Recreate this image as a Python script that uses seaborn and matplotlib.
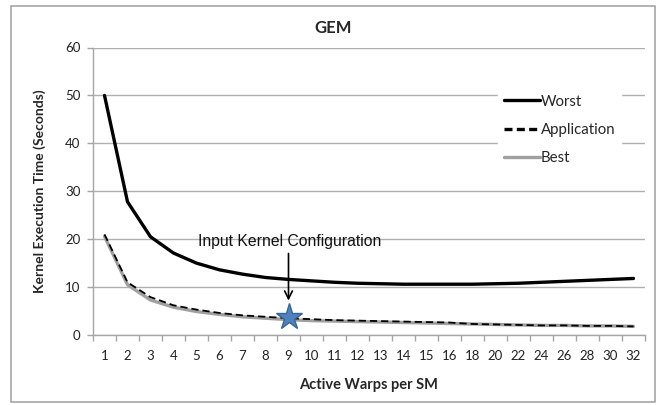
import matplotlib
matplotlib.use("Agg")
import matplotlib.pyplot as plt
import seaborn as sns
import pandas as pd
import numpy as np
from matplotlib.patches import Rectangle

warps = ["1", "2", "3", "4", "5", "6", "7", "8", "9", "10", "11", "12", "13", "14",
         "15", "16", "18", "20", "22", "24", "26", "28", "30", "32"]
worst = [50, 27.8, 20.5, 17.1, 15.0, 13.6, 12.7, 12.0, 11.6, 11.3, 11.0, 10.8,
         10.7, 10.6, 10.6, 10.6, 10.6, 10.7, 10.8, 11.0, 11.2, 11.4, 11.6, 11.8]
application = [21.0, 11.0, 7.9, 6.2, 5.3, 4.6, 4.1, 3.8, 3.5, 3.3, 3.1, 3.0,
               2.9, 2.8, 2.7, 2.6, 2.3, 2.2, 2.1, 2.0, 2.0, 1.9, 1.9, 1.8]
best = [20.6, 10.5, 7.3, 5.8, 4.9, 4.3, 3.8, 3.5, 3.2, 3.0, 2.9, 2.8,
        2.7, 2.6, 2.5, 2.4, 2.3, 2.2, 2.1, 2.0, 2.0, 1.9, 1.9, 1.8]
input_config_warps = "9"
input_config_time = 3.8
yticks = [0, 10, 20, 30, 40, 50, 60]

sns.set_theme(style="white")
plt.rcParams["font.family"] = ["Lato", "DejaVu Sans"]

pos = np.arange(len(warps))
df = pd.DataFrame({
    "pos": np.tile(pos, 3),
    "time": worst + application + best,
    "series": ["Worst"] * len(warps) + ["Application"] * len(warps) + ["Best"] * len(warps),
})

fig = plt.figure(figsize=6.59 * np.array([1, 405 / 659]), dpi=100)
fig.patch.set_facecolor("white")
ax = fig.add_axes([93 / 659, 1 - 335 / 405, (645 - 93) / 659, (335 - 47.5) / 405])

# outer chart border
fig.patches.append(Rectangle((11 / 659, 1 - 401.5 / 405), (655 - 11) / 659, (401.5 - 6) / 405,
                             transform=fig.transFigure, fill=False, edgecolor="#a6a6a6",
                             linewidth=1.2))

palette = {"Worst": "black", "Application": "black", "Best": "#a0a0a0"}
sizes = {"Worst": 2.4, "Application": 1.3, "Best": 2.4}
dashes = {"Worst": "", "Application": (4, 2.2), "Best": ""}
for name in ["Best", "Application", "Worst"]:
    sub = df[df.series == name]
    sns.lineplot(data=sub, x="pos", y="time", ax=ax, color=palette[name],
                 linewidth=sizes[name], label=name, legend=False)
    if dashes[name]:
        ax.lines[-1].set_dashes(dashes[name])

ax.set_xlim(-0.5, len(warps) - 0.5)
ax.set_ylim(0, 60)
ax.set_yticks(yticks)
ax.set_yticklabels([str(v) for v in yticks], fontsize=9.5)
ax.set_xticks(pos)
ax.set_xticklabels(warps, fontsize=9.5)
ax.set_xticks(np.arange(len(warps) + 1) - 0.5, minor=True)
ax.tick_params(axis="x", which="major", length=0, pad=11, colors="#222222")
ax.tick_params(axis="x", which="minor", length=4, color="#a6a6a6", width=1, direction="out", bottom=True)
ax.tick_params(axis="y", which="major", length=4, color="#a6a6a6", width=1, direction="out", left=True, pad=5, colors="#222222")
ax.tick_params(axis="y", which="major", color="#a6a6a6")
ax.grid(axis="y", color="#b0b0b0", linewidth=1.0)
ax.set_axisbelow(True)
for s in ["top", "right"]:
    ax.spines[s].set_visible(False)
for s in ["left", "bottom"]:
    ax.spines[s].set_color("#a6a6a6")
    ax.spines[s].set_linewidth(1.0)

ax.set_xlabel("Active Warps per SM", fontsize=10.5, fontweight="bold", labelpad=11)
ax.set_ylabel("Kernel Execution Time (Seconds)", fontsize=10, fontweight="bold", labelpad=14)
fig.text(333 / 659, 1 - 28 / 405, "GEM", ha="center", va="center", fontsize=12, fontweight="bold")

# legend with specific order
handles = {l.get_label(): l for l in ax.lines}
leg = ax.legend([handles["Worst"], handles["Application"], handles["Best"]],
                ["Worst", "Application", "Best"], loc="upper left",
                bbox_to_anchor=(0.733, 0.857), frameon=True, fontsize=10.8,
                handlelength=2.4, handletextpad=0.08, labelspacing=0.95,
                borderaxespad=0, borderpad=0.4)
leg.get_frame().set_edgecolor("white")
leg.get_frame().set_facecolor("white")
leg.get_frame().set_alpha(1)
app_handle = leg.get_lines()[1]
app_handle.set_linewidth(2.4)
app_handle.set_dashes((2.4, 1.3))

# input kernel configuration marker
xi = warps.index(input_config_warps)
ax.plot([xi], [input_config_time], marker="*", markersize=20, color="#4f81bd",
        markeredgecolor="#3a6496", markeredgewidth=1, zorder=6, linestyle="none")
ax.annotate("", xy=(xi, 6.6), xytext=(xi, 17.6),
            arrowprops=dict(arrowstyle="->", color="black", lw=1.2, mutation_scale=14))
ax.text(xi + 0.05, 18.0, "Input Kernel Configuration", ha="center", va="bottom",
        fontsize=11.3, family=["Liberation Sans", "DejaVu Sans"], color="#111111")

fig.savefig("out.png", dpi=100, facecolor="white")
